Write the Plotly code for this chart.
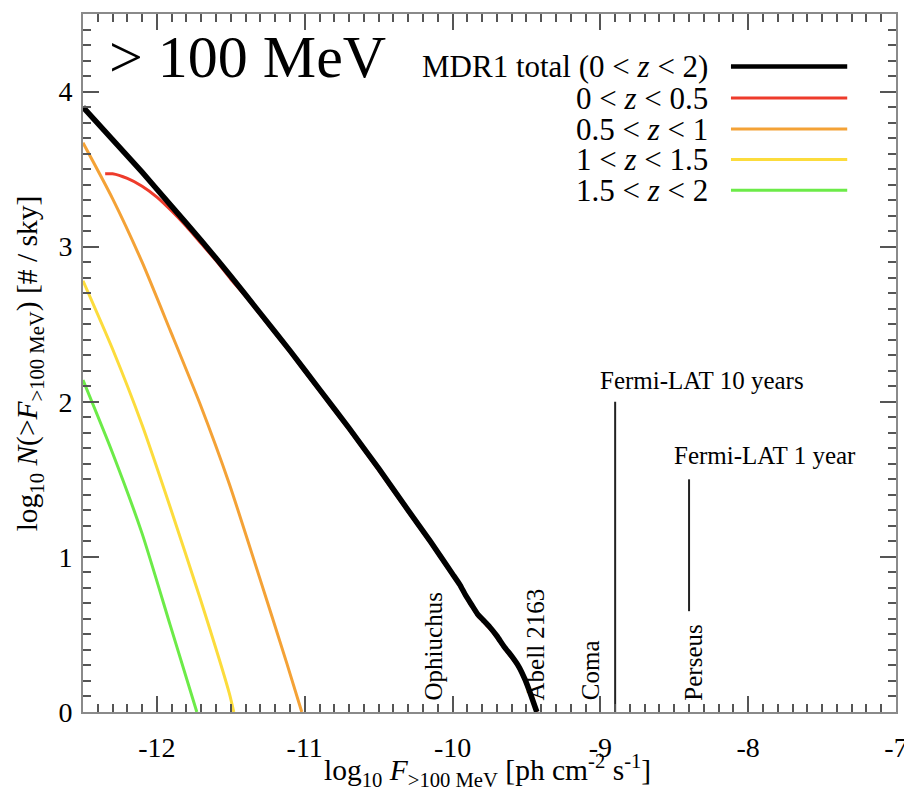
import plotly.graph_objects as go

# ---------------- data ----------------
logF_total = [-12.50, -12.30, -12.10, -11.90, -11.70, -11.50, -11.30, -11.10, -10.90, -10.70,
              -10.50, -10.30, -10.15, -10.00, -9.95, -9.91, -9.87, -9.83, -9.79, -9.75,
              -9.70, -9.65, -9.60, -9.55, -9.51, -9.47, -9.43]
logN_total = [3.90, 3.69, 3.48, 3.26, 3.04, 2.81, 2.57, 2.33, 2.08, 1.83,
              1.57, 1.30, 1.10, 0.89, 0.82, 0.75, 0.69, 0.63, 0.59, 0.55,
              0.49, 0.42, 0.36, 0.29, 0.21, 0.11, 0.00]

logF_z0 = [-12.35, -12.30, -12.20, -12.10, -12.00, -11.90, -11.80, -11.70, -11.60, -11.50,
           -11.40, -11.30, -11.10, -10.90, -10.70, -10.50, -10.30, -10.15, -10.00, -9.95,
           -9.91, -9.87, -9.83, -9.79, -9.75, -9.70, -9.65, -9.60, -9.55, -9.51, -9.47, -9.43]
logN_z0 = [3.47, 3.47, 3.44, 3.39, 3.32, 3.23, 3.13, 3.02, 2.91, 2.79,
           2.68, 2.56, 2.32, 2.07, 1.82, 1.56, 1.29, 1.09, 0.88, 0.81,
           0.74, 0.68, 0.62, 0.58, 0.54, 0.48, 0.41, 0.35, 0.28, 0.20, 0.10, 0.00]

logF_z05 = [-12.50, -12.30, -12.10, -11.91, -11.71, -11.51, -11.32, -11.12, -11.02]
logN_z05 = [3.67, 3.31, 2.90, 2.46, 1.99, 1.47, 0.91, 0.31, 0.00]

logF_z1 = [-12.50, -12.30, -12.10, -11.91, -11.71, -11.51, -11.48]
logN_z1 = [2.78, 2.34, 1.85, 1.32, 0.74, 0.12, 0.00]

logF_z15 = [-12.50, -12.30, -12.10, -11.91, -11.73]
logN_z15 = [2.14, 1.67, 1.15, 0.56, 0.00]

series_names = ["MDR1 total (0 &lt; <i>z</i> &lt; 2)", "0 &lt; <i>z</i> &lt; 0.5",
                "0.5 &lt; <i>z</i> &lt; 1", "1 &lt; <i>z</i> &lt; 1.5", "1.5 &lt; <i>z</i> &lt; 2"]

cluster_names = ["Ophiuchus", "Abell 2163", "Coma", "Perseus"]
cluster_logF = [-10.13, -9.44, -9.07, -8.37]

fermi_names = ["Fermi-LAT 10 years", "Fermi-LAT 1 year"]
fermi_logF = [-8.9, -8.4]
fermi_top = [2.0, 1.5]
fermi_bottom = [0.0, 0.65]

x_tickvals = [-12, -11, -10, -9, -8, -7]
x_ticktext = ["-12", "-11", "-10", "-9", "-8", "-7"]
y_tickvals = [0, 1, 2, 3, 4]
y_ticktext = ["0", "1", "2", "3", "4"]

# ---------------- styles ----------------
FONT = "Liberation Serif, Times New Roman, serif"
colors = ["#000000", "#ee3b2b", "#f4a236", "#fcdc3c", "#6ceb48"]
widths = [5.5, 3, 3, 3, 3]

fig = go.Figure()

curves = [(logF_z05, logN_z05, 2), (logF_z1, logN_z1, 3), (logF_z15, logN_z15, 4),
          (logF_z0, logN_z0, 1), (logF_total, logN_total, 0)]
for xs, ys, i in curves:
    fig.add_trace(go.Scatter(
        x=xs, y=ys, mode="lines",
        line=dict(color=colors[i], width=widths[i], shape="spline",
                  smoothing=0.6 if i >= 1 else 0.3),
        showlegend=False, hoverinfo="skip"))

# Fermi-LAT sensitivity lines
for fx, ft, fb in zip(fermi_logF, fermi_top, fermi_bottom):
    fig.add_trace(go.Scatter(x=[fx, fx], y=[fb, ft], mode="lines",
                             line=dict(color="#222222", width=2),
                             showlegend=False, hoverinfo="skip"))

annotations = []
# big energy label
annotations.append(dict(text="&gt; 100 MeV", xref="paper", yref="paper", x=0.030, y=0.938,
                        xanchor="left", yanchor="middle", showarrow=False,
                        font=dict(family=FONT, size=60, color="black")))

# custom legend (text right-aligned, line sample on the right)
leg_y = [0.9247, 0.8795, 0.8352, 0.7914, 0.7475]
shapes = []
for name, c, w, yy in zip(series_names, colors, widths, leg_y):
    annotations.append(dict(text=name, xref="paper", yref="paper", x=0.771, y=yy,
                            xanchor="right", yanchor="middle", showarrow=False,
                            font=dict(family=FONT, size=31, color="black")))
    shapes.append(dict(type="line", xref="paper", yref="paper", x0=0.797, x1=0.940,
                       y0=yy, y1=yy, line=dict(color=c, width=min(w, 4.5))))

# Fermi labels
annotations.append(dict(text=fermi_names[0], xref="x", yref="y", x=-9.015, y=2.135,
                        xanchor="left", yanchor="middle", showarrow=False,
                        font=dict(family=FONT, size=25, color="black")))
annotations.append(dict(text=fermi_names[1], xref="x", yref="y", x=-8.515, y=1.655,
                        xanchor="left", yanchor="middle", showarrow=False,
                        font=dict(family=FONT, size=25, color="black")))

# cluster labels (rotated)
for nm, cx in zip(cluster_names, cluster_logF):
    annotations.append(dict(text=nm, xref="x", yref="y", x=cx, y=0.07,
                            xanchor="center", yanchor="bottom", textangle=-90,
                            showarrow=False, borderpad=0,
                            font=dict(family=FONT, size=25, color="black")))

# axis titles
annotations.append(dict(text="log<sub>10</sub> <i>F</i><sub>&gt;100 MeV</sub> [ph cm<sup>-2</sup> s<sup>-1</sup>]",
                        xref="paper", yref="paper", x=0.497, y=-0.084,
                        xanchor="center", yanchor="middle", showarrow=False,
                        font=dict(family=FONT, size=29.5, color="black")))
annotations.append(dict(text="log<sub>10</sub> <i>N</i>(&gt;<i>F</i><sub>&gt;100 MeV</sub>) [# / sky]",
                        xref="paper", yref="paper", x=-0.066, y=0.5,
                        xanchor="center", yanchor="middle", textangle=-90, showarrow=False,
                        font=dict(family=FONT, size=29.5, color="black")))

axis_common = dict(showgrid=False, zeroline=False, showline=True, linecolor="#8a8a8a",
                   linewidth=2, mirror="allticks", ticks="inside", ticklen=16,
                   tickwidth=1.5, tickcolor="#555555",
                   tickfont=dict(family=FONT, size=28, color="black"),
                   minor=dict(ticks="inside", ticklen=8, tickwidth=1.5,
                              tickcolor="#555555", dtick=0.1))

# page body has an 8px margin, so the figure is 8px smaller than the window
fig.update_layout(
    width=904, height=783,
    margin=dict(l=75, r=13, t=4, b=79),
    paper_bgcolor="white", plot_bgcolor="white",
    showlegend=False,
    xaxis=dict(range=[-12.5, -7], tickmode="array", tickvals=x_tickvals, ticktext=x_ticktext,
               ticklabelstandoff=9, **axis_common),
    yaxis=dict(range=[0, 4.5], tickmode="array", tickvals=y_tickvals, ticktext=y_ticktext,
               ticklabelstandoff=3, **axis_common),
    annotations=annotations,
    shapes=shapes,
)

fig.write_html("out.html")
